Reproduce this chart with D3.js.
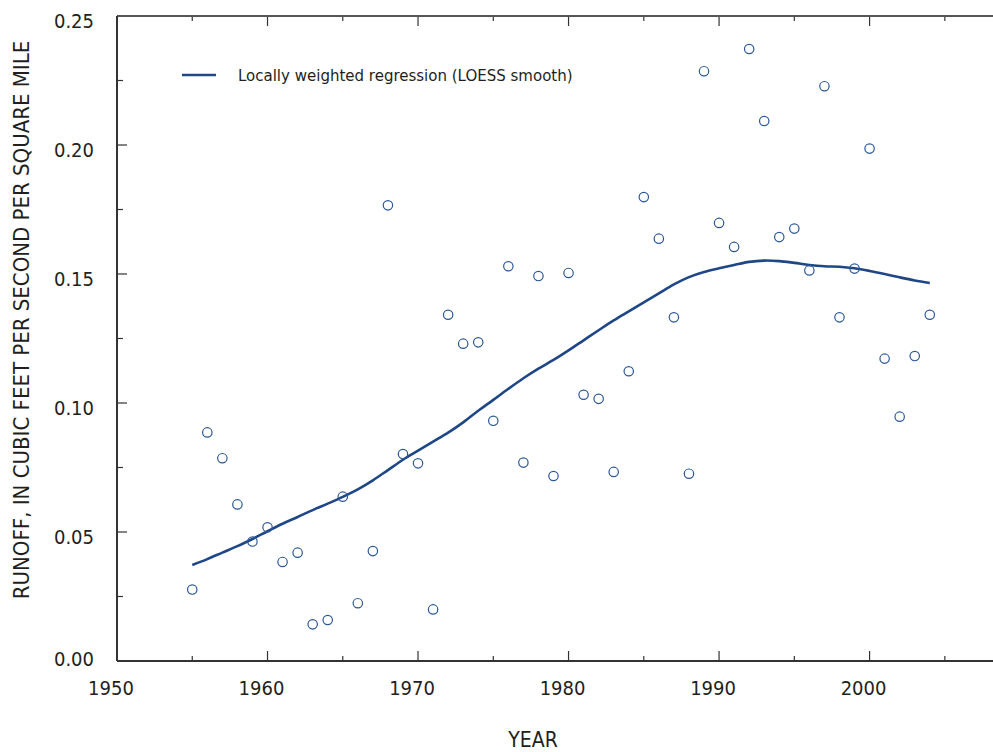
<!DOCTYPE html>
<html>
<head>
<meta charset="utf-8">
<script src="https://cdn.jsdelivr.net/npm/d3@7"></script>
<style>
  body { margin: 0; background: #fff; }
  svg text { font-family: "Liberation Sans Narrow", "DejaVu Sans Condensed", "Arial Narrow", sans-serif; fill: #231f20; }
</style>
</head>
<body>
<div id="chart"></div>
<script>
const years = d3.range(1955, 2005);
const runoff = [
  0.0277, 0.0886, 0.0786, 0.0607, 0.0463, 0.0518, 0.0384, 0.0420, 0.0142, 0.0159,
  0.0637, 0.0224, 0.0426, 0.1766, 0.0802, 0.0766, 0.0200, 0.1342, 0.1230, 0.1235,
  0.0931, 0.1530, 0.0769, 0.1492, 0.0717, 0.1504, 0.1032, 0.1016, 0.0733, 0.1123,
  0.1798, 0.1637, 0.1332, 0.0726, 0.2286, 0.1698, 0.1605, 0.2372, 0.2093, 0.1643,
  0.1676, 0.1514, 0.2228, 0.1332, 0.1521, 0.1986, 0.1172, 0.0947, 0.1182, 0.1342
];
const loess = [
  0.0372, 0.0395, 0.0420, 0.0445, 0.0473, 0.0503, 0.0532, 0.0558, 0.0585, 0.0610,
  0.0636, 0.0665, 0.0700, 0.0740, 0.0780, 0.0815, 0.0850, 0.0885, 0.0925, 0.0970,
  0.1012, 0.1055, 0.1096, 0.1133, 0.1167, 0.1204, 0.1243, 0.1282, 0.1320, 0.1355,
  0.1390, 0.1425, 0.1460, 0.1488, 0.1508, 0.1522, 0.1535, 0.1547, 0.1552, 0.1550,
  0.1543, 0.1535, 0.1530, 0.1528, 0.1522, 0.1512, 0.1500, 0.1487, 0.1475, 0.1465
];
const xTickLabels = [1950, 1960, 1970, 1980, 1990, 2000];
const yTickLabels = [0, 0.05, 0.10, 0.15, 0.20, 0.25];
const legendLabel = "Locally weighted regression (LOESS smooth)";

const width = 993, height = 752;
const margin = { top: 16, right: 0, bottom: 91, left: 117 };
const blue = "#1f4788";

const svg = d3.select("#chart").append("svg")
  .attr("width", width)
  .attr("height", height);

const x = d3.scaleLinear()
  .domain([1950, 2008.2])
  .range([margin.left, width - margin.right]);
const y = d3.scaleLinear()
  .domain([0, 0.25])
  .range([height - margin.bottom, margin.top]);

// tick marks, all pointing into the plot
const xMinor = d3.range(1950, 2010, 5);
const yMinor = d3.range(0, 0.2501, 0.025);

const axisG = svg.append("g").attr("stroke", "#333");

axisG.selectAll(".xb").data(xMinor).join("line")
  .attr("x1", d => x(d)).attr("x2", d => x(d))
  .attr("y1", y(0)).attr("y2", d => y(0) - (d % 10 === 0 ? 10 : 5))
  .attr("stroke-width", 1.2);
axisG.selectAll(".xt").data(xMinor).join("line")
  .attr("x1", d => x(d)).attr("x2", d => x(d))
  .attr("y1", y(0.25)).attr("y2", d => y(0.25) + (d % 10 === 0 ? 10 : 5))
  .attr("stroke-width", 1.2);
axisG.selectAll(".yl").data(yMinor).join("line")
  .attr("x1", x(1950)).attr("x2", (d, i) => x(1950) + (i % 2 === 0 ? 10 : 6))
  .attr("y1", d => y(d)).attr("y2", d => y(d))
  .attr("stroke-width", 1.2);

// frame lines
axisG.append("line")
  .attr("x1", x(1950)).attr("x2", width)
  .attr("y1", y(0)).attr("y2", y(0))
  .attr("stroke-width", 2);
axisG.append("line")
  .attr("x1", x(1950)).attr("x2", width)
  .attr("y1", y(0.25)).attr("y2", y(0.25))
  .attr("stroke-width", 2).attr("stroke", "#555");
axisG.append("line")
  .attr("x1", x(1950)).attr("x2", x(1950))
  .attr("y1", y(0.25)).attr("y2", y(0))
  .attr("stroke-width", 2);

// tick labels
svg.selectAll(".xlab").data(xTickLabels).join("text")
  .attr("x", d => x(d) - 6)
  .attr("y", 695)
  .attr("text-anchor", "middle")
  .style("font-size", "20px")
  .text(d => d);
svg.selectAll(".ylab").data(yTickLabels).join("text")
  .attr("x", 94)
  .attr("y", d => y(d) + (d === 0 ? -2 : 5))
  .attr("dy", "0.35em")
  .attr("text-anchor", "end")
  .style("font-size", "20px")
  .text(d => d3.format(".2f")(d));

// axis titles
svg.append("text")
  .attr("x", 533).attr("y", 747)
  .attr("text-anchor", "middle")
  .style("font-size", "21px")
  .text("YEAR");
svg.append("text")
  .attr("transform", "translate(29,320) rotate(-90)")
  .attr("text-anchor", "middle")
  .style("font-size", "22px")
  .text("RUNOFF, IN CUBIC FEET PER SECOND PER SQUARE MILE");

// LOESS line
const line = d3.line()
  .x((d, i) => x(years[i]))
  .y(d => y(d))
  .curve(d3.curveCatmullRom);
svg.append("path")
  .datum(loess)
  .attr("d", line)
  .attr("fill", "none")
  .attr("stroke", blue)
  .attr("stroke-width", 2.6);

// observed points
svg.selectAll(".pt").data(runoff).join("circle")
  .attr("cx", (d, i) => x(years[i]))
  .attr("cy", d => y(d))
  .attr("r", 4.7)
  .attr("fill", "none")
  .attr("stroke", "#2b5797")
  .attr("stroke-width", 1.2);

// legend
svg.append("line")
  .attr("x1", 182).attr("x2", 216)
  .attr("y1", 75).attr("y2", 75)
  .attr("stroke", blue)
  .attr("stroke-width", 2.6);
svg.append("text")
  .attr("x", 238).attr("y", 81)
  .style("font-size", "16.7px")
  .text(legendLabel);
</script>
</body>
</html>
